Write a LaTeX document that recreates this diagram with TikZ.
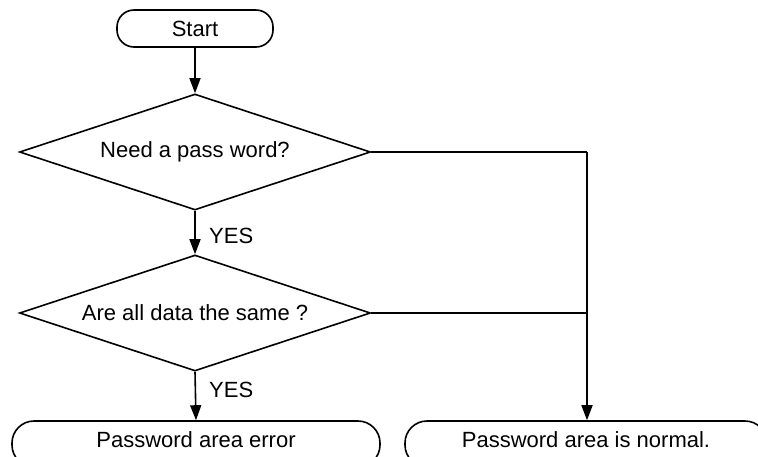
\documentclass[tikz,border=0pt]{standalone}
\usepackage{fontspec}
\setmainfont{Liberation Sans}
\usetikzlibrary{shapes.geometric,arrows.meta}
\begin{document}
\begin{tikzpicture}[x=1pt,y=-1pt,
  every node/.style={font=\fontsize{22}{26}\selectfont},
  line/.style={line width=1.6pt},
  arr/.style={line, -{Triangle[length=15pt,width=11pt]}},
  term/.style={draw, line width=1.6pt, rectangle, rounded corners=17pt, inner sep=0pt},
  dec/.style={draw, line width=1.6pt, diamond, aspect=3, inner sep=0pt, minimum width=351pt, minimum height=116pt},
  lab/.style={anchor=west, inner sep=0pt}]
\clip (0,0) rectangle (758,456);
\fill[white] (0,0) rectangle (758,456);
\node[term, minimum width=156pt, minimum height=37pt] (start) at (195,28.5) {Start};
\node[dec] (d1) at (195,152) {Need a pass word?};
\node[dec] (d2) at (195,313) {Are all data the same ?};
\node[term, rounded corners=22pt, minimum width=368pt, minimum height=46pt] (err) at (196,444) {};
\node at (196,440) {Password area error};
\node[term, rounded corners=22pt, minimum width=362pt, minimum height=46pt] (ok) at (586,444) {};
\node at (586,440) {Password area is normal.};
\coordinate (j1) at (587,152);
\coordinate (j2) at (587,313);
\draw[arr] (start) -- (d1.north);
\draw[arr] (d1.south) -- (d2.north);
\draw[arr] (d2.south) -- (err.north);
\node[lab] (yes1) at (209,236) {YES};
\node[lab] (yes2) at (209,390) {YES};
\draw[line] (d1.east) -- (j1);
\draw[line] (d2.east) -- (j2);
\draw[arr] (j1) -- (ok.north -| j1);
\end{tikzpicture}
\end{document}
